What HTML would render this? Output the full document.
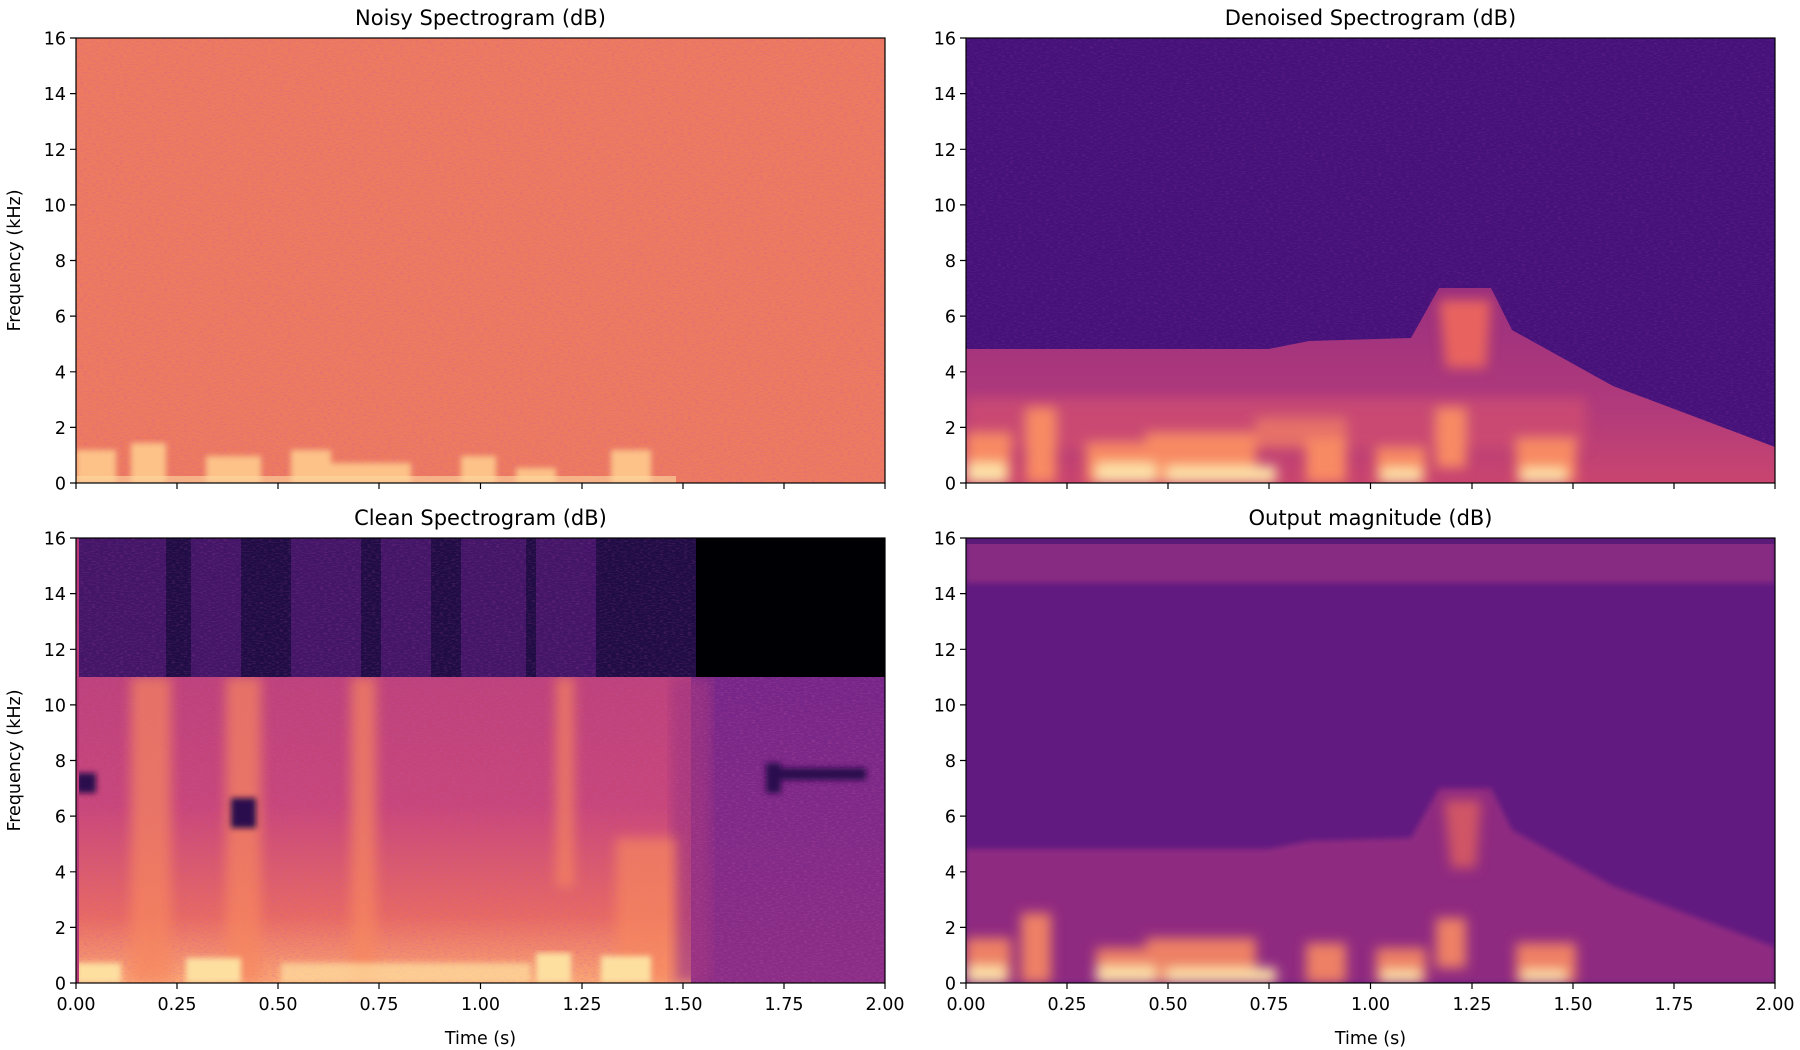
<!DOCTYPE html>
<html><head><meta charset="utf-8"><style>
body{margin:0;background:#fff}
svg{display:block}
text{font-family:"DejaVu Sans","Liberation Sans",sans-serif;fill:#000}
</style></head><body>
<svg width="1800" height="1050" viewBox="0 0 1800 1050" xmlns="http://www.w3.org/2000/svg">
<defs>
<filter id="nz" x="0" y="0" width="100%" height="100%">
<feTurbulence type="fractalNoise" baseFrequency="0.25 0.9" numOctaves="2" seed="3"/>
<feColorMatrix type="matrix" values="0 0 0 0 0.55  0 0 0 0 0.1  0 0 0 0 0.4  0 0 0 1.2 -0.55"/>
</filter>
<filter id="bl"><feGaussianBlur stdDeviation="6"/></filter>
<filter id="bl2"><feGaussianBlur stdDeviation="3"/></filter>
<linearGradient id="g3" x1="0" y1="0" x2="0" y2="1">
<stop offset="0" stop-color="#b23c7c"/><stop offset="0.6" stop-color="#c8467a"/><stop offset="0.85" stop-color="#e86a62"/><stop offset="1" stop-color="#fca874"/>
</linearGradient>
<linearGradient id="g3r" x1="0" y1="0" x2="0" y2="1">
<stop offset="0" stop-color="#6b2289"/><stop offset="1" stop-color="#8a2d86"/>
</linearGradient>
<linearGradient id="g2" x1="0" y1="0" x2="0" y2="1">
<stop offset="0" stop-color="#9a2f7e"/><stop offset="0.6" stop-color="#b03a7c"/><stop offset="1" stop-color="#c9456f"/>
</linearGradient>
<clipPath id="c"><rect width="809" height="445"/></clipPath>
</defs>

<g transform="translate(76,38)" clip-path="url(#c)">
<rect width="809" height="445" fill="#ee7a5f"/>
<rect width="809" height="445" filter="url(#nz)" opacity="0.7"/>
<g fill="#fcc288" filter="url(#bl2)">
<rect x="0" y="412" width="40" height="33"/>
<rect x="55" y="405" width="35" height="40"/>
<rect x="130" y="418" width="55" height="27"/>
<rect x="215" y="412" width="40" height="33"/>
<rect x="255" y="425" width="80" height="20"/>
<rect x="385" y="418" width="35" height="27"/>
<rect x="440" y="430" width="40" height="15"/>
<rect x="535" y="412" width="40" height="33"/>
</g>
<rect x="0" y="438" width="600" height="7" fill="#fdd9a0" opacity="0.6"/>
</g>

<g transform="translate(966,38)" clip-path="url(#c)">
<rect width="809" height="445" fill="#45127a"/>
<rect width="809" height="445" filter="url(#nz)" opacity="0.35"/>
<polygon points="0,311 303,311 343,303 445,300 473,250 525,250 546,292 647,348 809,409 809,445 0,445" fill="url(#g2)"/>
<g filter="url(#bl)">
<polygon points="473,262 525,262 520,330 480,330" fill="#e8645f"/>
<rect x="0" y="360" width="620" height="50" fill="#d2506f" opacity="0.7"/>
<g fill="#f88a63">
<rect x="0" y="395" width="45" height="50"/><rect x="60" y="370" width="30" height="75"/>
<rect x="120" y="405" width="70" height="40"/><rect x="180" y="395" width="110" height="50"/>
<rect x="290" y="380" width="90" height="30" opacity="0.6"/><rect x="340" y="400" width="40" height="45"/>
<rect x="410" y="410" width="50" height="35"/><rect x="470" y="370" width="30" height="60"/>
<rect x="550" y="400" width="60" height="45"/>
</g>
<g fill="#fde3a8">
<rect x="0" y="425" width="40" height="20"/><rect x="130" y="425" width="60" height="20"/>
<rect x="200" y="428" width="110" height="17"/><rect x="415" y="430" width="40" height="15"/>
<rect x="555" y="430" width="45" height="15"/>
</g>
</g>
</g>

<g transform="translate(76,538)" clip-path="url(#c)">
<rect width="809" height="445" fill="url(#g3)"/>
<rect x="615" y="0" width="194" height="445" fill="url(#g3r)"/>
<rect x="595" y="139" width="40" height="306" fill="#a0357f" opacity="0.7" filter="url(#bl)"/>
<rect width="809" height="445" filter="url(#nz)" opacity="0.7"/>
<g fill="#f7875f" opacity="0.7" filter="url(#bl)">
<rect x="55" y="139" width="40" height="306"/><rect x="150" y="139" width="35" height="306"/>
<rect x="275" y="139" width="25" height="306"/><rect x="480" y="139" width="18" height="210"/>
<rect x="540" y="300" width="60" height="145"/>
</g>
<g fill="#fde0a0" filter="url(#bl2)">
<rect x="0" y="425" width="45" height="20"/><rect x="110" y="420" width="55" height="25"/>
<rect x="205" y="425" width="250" height="20" opacity="0.7"/><rect x="460" y="415" width="35" height="30"/><rect x="525" y="418" width="50" height="27"/>
</g>
<g fill="#2a0b4d" filter="url(#bl2)">
<rect x="690" y="225" width="15" height="30"/><rect x="700" y="230" width="90" height="12"/>
<rect x="155" y="260" width="25" height="30"/><rect x="0" y="235" width="20" height="20"/>
<rect x="45" y="70" width="20" height="50" opacity="0.6"/>
</g>
<rect x="0" y="0" width="809" height="139" fill="#1f0c45"/>
<g fill="#5a1b7e" opacity="0.6">
<rect x="0" y="0" width="90" height="139"/><rect x="115" y="0" width="50" height="139"/>
<rect x="215" y="0" width="70" height="139"/><rect x="305" y="0" width="50" height="139"/>
<rect x="385" y="0" width="65" height="139"/><rect x="460" y="0" width="60" height="139"/>
</g>
<rect x="0" y="0" width="809" height="139" filter="url(#nz)" opacity="0.5"/>
<rect x="620" y="0" width="189" height="139" fill="#000004"/>
<rect x="0" y="0" width="3" height="445" fill="#b73779"/>
</g>

<g transform="translate(966,538)" clip-path="url(#c)">
<rect width="809" height="445" fill="#611a80"/>
<rect x="0" y="0" width="809" height="45" fill="#872a82" filter="url(#bl2)"/>
<rect x="0" y="0" width="809" height="6" fill="#5a1a78"/>
<polygon points="0,311 303,311 343,303 445,300 473,250 525,250 546,292 647,348 809,409 809,445 0,445" fill="#8f2c81" filter="url(#bl2)"/>
<g filter="url(#bl)">
<polygon points="478,262 515,262 510,330 485,330" fill="#e0605f" opacity="0.8"/>
<g fill="#f88a63" opacity="0.9">
<rect x="0" y="400" width="45" height="45"/><rect x="55" y="375" width="30" height="70"/>
<rect x="130" y="410" width="60" height="35"/><rect x="180" y="400" width="110" height="45"/>
<rect x="340" y="405" width="40" height="40"/><rect x="410" y="410" width="50" height="35"/>
<rect x="470" y="380" width="30" height="50"/><rect x="550" y="405" width="60" height="40"/>
</g>
<g fill="#fde3a8">
<rect x="0" y="428" width="40" height="17"/><rect x="130" y="428" width="60" height="17"/>
<rect x="200" y="430" width="110" height="15"/><rect x="415" y="432" width="40" height="13"/>
<rect x="555" y="432" width="45" height="13"/>
</g>
</g>
</g>

<g fill="none" stroke="#000" stroke-width="1.2">
<rect x="76" y="38" width="809" height="445"/>
<rect x="966" y="38" width="809" height="445"/>
<rect x="76" y="538" width="809" height="445"/>
<rect x="966" y="538" width="809" height="445"/>
</g>

<g stroke="#000" stroke-width="1.2">
<path d="M76,483v6M177,483v6M278,483v6M379,483v6M480.5,483v6M582,483v6M683,483v6M784,483v6M885,483v6"/>
<path d="M966,483v6M1067,483v6M1168,483v6M1269,483v6M1370.5,483v6M1472,483v6M1573,483v6M1674,483v6M1775,483v6"/>
<path d="M76,983v6M177,983v6M278,983v6M379,983v6M480.5,983v6M582,983v6M683,983v6M784,983v6M885,983v6"/>
<path d="M966,983v6M1067,983v6M1168,983v6M1269,983v6M1370.5,983v6M1472,983v6M1573,983v6M1674,983v6M1775,983v6"/>
<path d="M70,38h6M70,93.6h6M70,149.3h6M70,204.9h6M70,260.5h6M70,316.1h6M70,371.8h6M70,427.4h6M70,483h6"/>
<path d="M960,38h6M960,93.6h6M960,149.3h6M960,204.9h6M960,260.5h6M960,316.1h6M960,371.8h6M960,427.4h6M960,483h6"/>
<path d="M70,538h6M70,593.6h6M70,649.3h6M70,704.9h6M70,760.5h6M70,816.1h6M70,871.8h6M70,927.4h6M70,983h6"/>
<path d="M960,538h6M960,593.6h6M960,649.3h6M960,704.9h6M960,760.5h6M960,816.1h6M960,871.8h6M960,927.4h6M960,983h6"/>
</g>

<g font-size="17.5" text-anchor="end">
<g transform="translate(66,6.5)">
<text y="38">16</text><text y="93.6">14</text><text y="149.3">12</text><text y="204.9">10</text><text y="260.5">8</text><text y="316.1">6</text><text y="371.8">4</text><text y="427.4">2</text><text y="483">0</text>
<text y="538">16</text><text y="593.6">14</text><text y="649.3">12</text><text y="704.9">10</text><text y="760.5">8</text><text y="816.1">6</text><text y="871.8">4</text><text y="927.4">2</text><text y="983">0</text>
</g>
<g transform="translate(956,6.5)">
<text y="38">16</text><text y="93.6">14</text><text y="149.3">12</text><text y="204.9">10</text><text y="260.5">8</text><text y="316.1">6</text><text y="371.8">4</text><text y="427.4">2</text><text y="483">0</text>
<text y="538">16</text><text y="593.6">14</text><text y="649.3">12</text><text y="704.9">10</text><text y="760.5">8</text><text y="816.1">6</text><text y="871.8">4</text><text y="927.4">2</text><text y="983">0</text>
</g>
</g>

<g font-size="17.5" text-anchor="middle">
<g transform="translate(0,1010)">
<text x="76">0.00</text><text x="177">0.25</text><text x="278">0.50</text><text x="379">0.75</text><text x="480.5">1.00</text><text x="582">1.25</text><text x="683">1.50</text><text x="784">1.75</text><text x="885">2.00</text>
<text x="966">0.00</text><text x="1067">0.25</text><text x="1168">0.50</text><text x="1269">0.75</text><text x="1370.5">1.00</text><text x="1472">1.25</text><text x="1573">1.50</text><text x="1674">1.75</text><text x="1775">2.00</text>
</g>
<text x="480.5" y="1044">Time (s)</text>
<text x="1370.5" y="1044">Time (s)</text>
<text x="480.5" y="25" font-size="21">Noisy Spectrogram (dB)</text>
<text x="1370.5" y="25" font-size="21">Denoised Spectrogram (dB)</text>
<text x="480.5" y="525" font-size="21">Clean Spectrogram (dB)</text>
<text x="1370.5" y="525" font-size="21">Output magnitude (dB)</text>
<text transform="translate(20,260.5) rotate(-90)">Frequency (kHz)</text>
<text transform="translate(20,760.5) rotate(-90)">Frequency (kHz)</text>
</g>
</svg>
</body></html>
